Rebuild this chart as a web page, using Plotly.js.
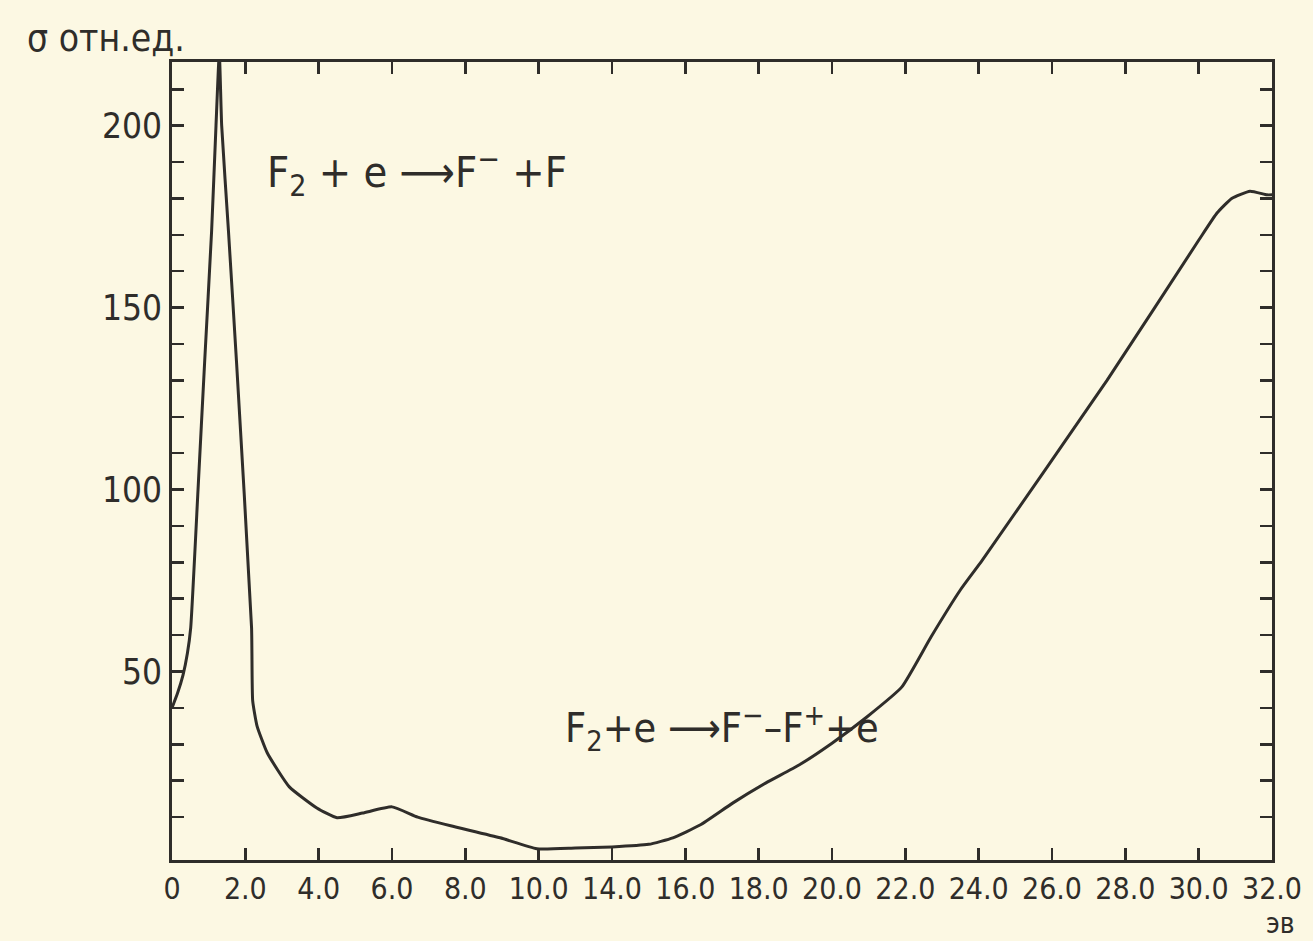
<!DOCTYPE html>
<html><head><meta charset="utf-8">
<script src="https://cdn.plot.ly/plotly-3.0.1.min.js"></script>
<style>html,body{margin:0;padding:0;background:#fcf8e3;} #chart{width:1313px;height:941px;}</style>
</head><body><div id="chart"></div>
<script>
// Position along the printed energy scale (axis units; labels below)
const energyPos = [0, 0.15, 0.3, 0.42, 0.51, 0.71, 0.89, 1.08, 1.2, 1.29, 1.355, 1.54, 1.76, 2.17, 2.2, 2.32, 2.6, 3.2, 3.95, 4.5, 5.2, 6.0, 6.7, 7.6, 8.95, 9.95, 11.0, 12.0, 13.0, 13.66, 14.4, 15.3, 16.2, 17.1, 18.0, 18.95, 19.9, 20.7, 21.5, 22.1, 25.5, 28.0, 28.5, 28.9, 29.4, 29.86, 30];
const sigmaRel  = [40, 44, 49, 55, 62, 100, 135, 171, 200, 220, 200, 171, 135, 62, 42, 35, 27.6, 18.3, 12.5, 9.8, 11.1, 12.8, 10, 7.6, 4.3, 1.3, 1.5, 1.8, 2.5, 4.3, 7.8, 13.9, 19.4, 24.3, 30.3, 37.5, 45.7, 59.5, 72.4, 80.6, 130, 168.5, 176, 180, 182, 181, 181];
const xTickPos = [0, 2, 4, 6, 8, 10, 12, 14, 16, 18, 20, 22, 24, 26, 28, 30];
const xTickLabels = ["0", "2.0", "4.0", "6.0", "8.0", "10.0", "14.0", "16.0", "18.0", "20.0", "22.0", "24.0", "26.0", "28.0", "30.0", "32.0"];
const yTickVals = [10, 20, 30, 40, 50, 60, 70, 80, 90, 100, 110, 120, 130, 140, 150, 160, 170, 180, 190, 200, 210];
const yLabelled = [50, 100, 150, 200];
const yTickLabels = yTickVals.map(v => yLabelled.includes(v) ? String(v) : "");

const ink = '#2f2d2a';
const fam = '"DejaVu Sans Condensed", "Liberation Sans Narrow", "DejaVu Sans", sans-serif';

const trace = {
  x: energyPos, y: sigmaRel, type: 'scatter', mode: 'lines',
  line: {color: ink, width: 3, shape: 'spline', smoothing: 0.45},
  hoverinfo: 'skip', showlegend: false
};

const axisCommon = {
  showline: true, linewidth: 3, linecolor: ink, mirror: 'ticks',
  ticks: 'inside', ticklen: 12, tickwidth: 2.5, tickcolor: ink,
  showgrid: false, zeroline: false, fixedrange: true,
  tickfont: {family: fam, size: 30, color: ink}
};

const layout = {
  width: 1313, height: 941,
  margin: {l: 172, r: 41, t: 62, b: 81},
  paper_bgcolor: '#fcf8e3', plot_bgcolor: '#fcf8e3',
  xaxis: Object.assign({}, axisCommon, {range: [0, 30], tickmode: 'array', tickvals: xTickPos, ticktext: xTickLabels}),
  yaxis: Object.assign({}, axisCommon, {range: [-1.8, 217.5], tickmode: 'array', tickvals: yTickVals, ticktext: yTickLabels, tickfont: {family: fam, size: 35, color: ink}}),
  annotations: [
    {text: 'σ отн.ед.', xref: 'paper', yref: 'paper', x: -0.134, y: 1.03, xanchor: 'left', yanchor: 'middle', showarrow: false, font: {family: fam, size: 37, color: ink}},
    {text: 'эв', xref: 'paper', yref: 'paper', x: 1.008, y: -0.102, xanchor: 'center', yanchor: 'bottom', borderpad: 0, showarrow: false, font: {family: fam, size: 28, color: ink}},
    {text: 'F<sub>2</sub> + e ⟶F<sup>−</sup> +F', xref: 'paper', yref: 'paper', x: 0.0845, y: 0.862, xanchor: 'left', yanchor: 'middle', showarrow: false, font: {family: fam, size: 43, color: ink}},
    {text: 'F<sub>2</sub>+e ⟶F<sup>−</sup>–F<sup>+</sup>+e', xref: 'paper', yref: 'paper', x: 0.355, y: 0.166, xanchor: 'left', yanchor: 'middle', showarrow: false, font: {family: fam, size: 41, color: ink}}
  ]
};

Plotly.newPlot('chart', [trace], layout, {displayModeBar: false, staticPlot: true});
</script>
</body></html>
